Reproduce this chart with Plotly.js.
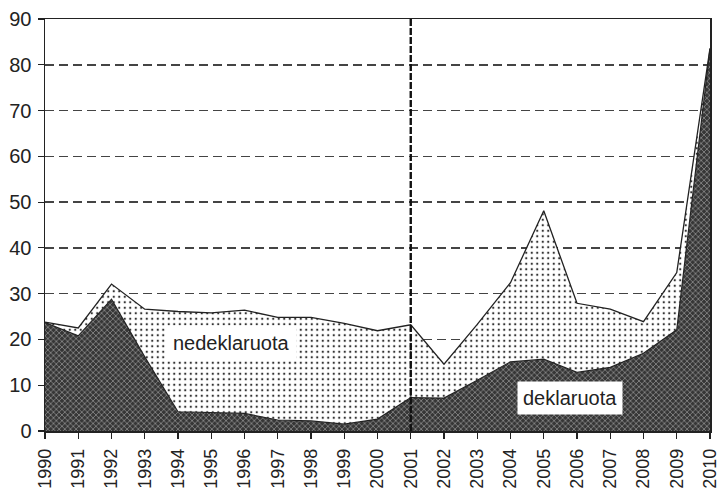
<!DOCTYPE html>
<html>
<head>
<meta charset="utf-8">
<script src="https://cdn.plot.ly/plotly-3.0.1.min.js"></script>
<style>html,body{margin:0;padding:0;background:#fff;}#chart{width:719px;height:491px;}</style>
</head>
<body>
<div id="chart"></div>
<script>
const years = [1990,1991,1992,1993,1994,1995,1996,1997,1998,1999,2000,2001,2002,2003,2004,2005,2006,2007,2008,2009,2010];
const deklaruota = [23.7,20.8,28.8,16.2,4.2,4.0,3.85,2.4,2.2,1.5,2.6,7.3,7.2,11.1,15.1,15.7,12.8,13.9,17.0,22.1,83.5];
const total = [23.8,22.5,32.1,26.6,26.1,25.8,26.4,24.8,24.8,23.5,21.9,23.2,14.6,23.3,32.4,48.1,27.9,26.6,23.9,34.6,83.6];
const tickYears = years.map(String);
const yTicks = [0,10,20,30,40,50,60,70,80,90];
const labelNedeklaruota = "nedeklaruota";
const labelDeklaruota = "deklaruota";
const markerYear = 2001;

const font = {family: "Liberation Sans", size: 20, color: "#222"};
const xfont = {family: "Liberation Sans", size: 18, color: "#222"};

const traces = [
  {
    x: years, y: deklaruota, type: "scatter", mode: "lines",
    line: {color: "#222", width: 1.2},
    fill: "tozeroy",
    fillcolor: "#3a3a3a",
    fillpattern: {shape: "x", bgcolor: "#363636", fgcolor: "#a0a0a0", size: 4, solidity: 0.3},
    hoverinfo: "skip", showlegend: false
  },
  {
    x: years, y: total, type: "scatter", mode: "lines",
    line: {color: "#222", width: 1.3},
    fill: "tonexty",
    fillcolor: "#fff",
    fillpattern: {shape: ".", bgcolor: "#ffffff", fgcolor: "#333", size: 5.5, solidity: 0.14},
    hoverinfo: "skip", showlegend: false
  }
];

const layout = {
  width: 719, height: 491,
  margin: {l: 45, r: 9, t: 19, b: 60},
  paper_bgcolor: "#fff", plot_bgcolor: "#fff",
  font: font,
  showlegend: false,
  xaxis: {
    range: [1990, 2010], tickmode: "array", tickvals: years, ticktext: tickYears,
    tickangle: -90, ticks: "outside", ticklen: 6, tickwidth: 1.2, tickcolor: "#222",
    ticklabelstandoff: 3, ticklabeloverflow: "allow",
    showline: true, linecolor: "#222", linewidth: 1.5, mirror: true,
    showgrid: false, zeroline: false, automargin: false, tickfont: xfont
  },
  yaxis: {
    range: [0, 90], tickmode: "array", tickvals: yTicks,
    ticks: "outside", ticklen: 6, tickwidth: 1.2, tickcolor: "#222",
    ticklabelstandoff: 2,
    showline: true, linecolor: "#222", linewidth: 1.5, mirror: true,
    showgrid: true, gridcolor: "#444", gridwidth: 1.6, griddash: "9px,5px",
    zeroline: false, automargin: false, tickfont: font
  },
  shapes: [
    {type: "line", xref: "x", yref: "paper", x0: markerYear, x1: markerYear, y0: 0, y1: 1,
     line: {color: "#111", width: 2.4, dash: "7px,2px"}, layer: "above"}
  ],
  annotations: [
    {x: 1995.6, y: 19.3, xref: "x", yref: "y", text: labelNedeklaruota, showarrow: false,
     font: font, bgcolor: "#fff", borderpad: 6},
    {x: 2005.8, y: 7.2, xref: "x", yref: "y", text: labelDeklaruota, showarrow: false,
     font: font, bgcolor: "#fff", borderpad: 5}
  ]
};

Plotly.newPlot("chart", traces, layout, {displayModeBar: false, staticPlot: true});
</script>
</body>
</html>
